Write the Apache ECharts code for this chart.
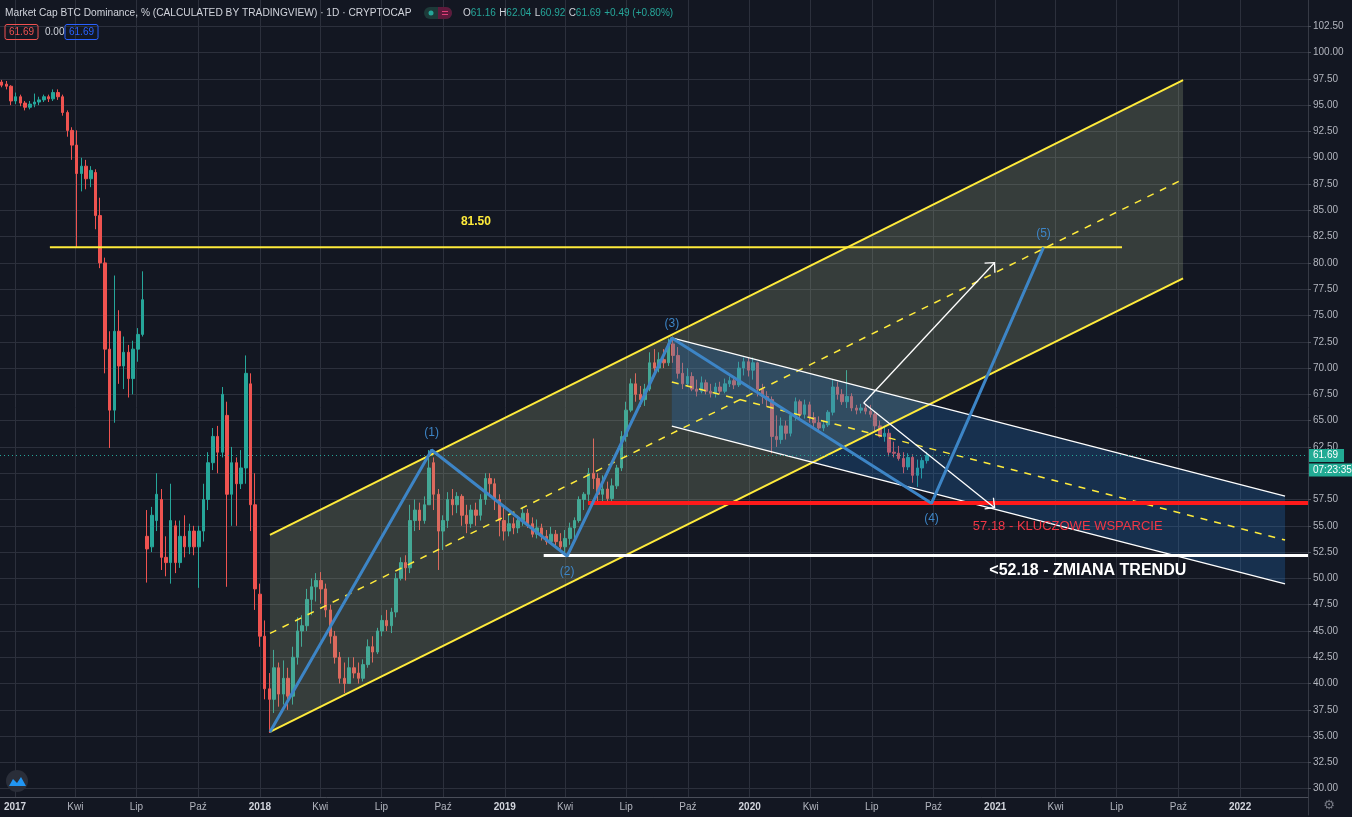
<!DOCTYPE html>
<html lang="pl">
<head>
    <meta charset="UTF-8">
    <title>Market Cap BTC Dominance</title>
    <script src="https://cdn.jsdelivr.net/npm/echarts@6.0.0/dist/echarts.min.js"></script>
    <style>
        html, body { margin: 0; padding: 0; background: #131722; }
        #main { width: 1352px; height: 817px; }
    </style>
</head>
<body>
<div id="main"></div>
<script type="text/javascript">
    var DAY = 86400000;
    function T(s) { return Date.parse(s + 'T00:00:00Z'); }

    // weekly candles, first week starts here
    var weekFirst = '2016-12-12';
    // [open, close, low, high]
    var ohlc = [
        [97.2, 96.9, 96.7, 97.4], [97.0, 96.8, 96.5, 97.3], [96.8, 95.4, 95.0, 96.9], [95.4, 95.8, 95.1, 96.2],
        [95.8, 95.2, 94.9, 96.0], [95.2, 94.8, 94.5, 95.4], [94.8, 95.1, 94.6, 95.4], [95.1, 95.3, 94.8, 96.1],
        [95.3, 95.5, 95.0, 95.8], [95.5, 95.8, 95.3, 96.0], [95.8, 95.6, 95.3, 96.0], [95.6, 96.2, 95.4, 96.5],
        [96.2, 95.8, 95.5, 96.5], [95.8, 94.3, 94.0, 96.0], [94.3, 92.6, 92.0, 94.5], [92.6, 91.2, 89.8, 92.9],
        [91.2, 88.5, 81.5, 92.6], [88.5, 89.2, 86.8, 90.0], [89.2, 88.0, 87.0, 89.8], [88.0, 88.8, 87.2, 89.2],
        [88.6, 84.5, 83.2, 88.9], [84.5, 80.0, 79.5, 86.2], [80.0, 71.8, 69.5, 80.5], [71.8, 66.0, 62.4, 73.5],
        [66.0, 73.5, 64.8, 78.8], [73.5, 70.2, 68.5, 75.5], [70.2, 71.5, 68.0, 73.0], [71.5, 69.0, 67.2, 72.2],
        [69.0, 71.8, 67.5, 72.6], [71.8, 73.2, 70.6, 73.8], [73.2, 76.5, 73.0, 79.2], [54.0, 52.8, 49.6, 56.5],
        [53.0, 56.0, 52.5, 56.8], [55.5, 58.0, 54.5, 60.0], [57.5, 52.0, 50.8, 58.5], [52.0, 51.5, 50.2, 54.0],
        [51.5, 55.5, 49.5, 59.0], [55.0, 51.5, 50.5, 55.5], [51.5, 54.0, 51.0, 55.5], [54.0, 53.0, 52.0, 56.0],
        [53.0, 54.5, 52.3, 55.2], [54.5, 53.0, 52.2, 55.0], [53.0, 54.5, 49.1, 55.0], [54.5, 57.5, 53.5, 59.0],
        [57.5, 61.0, 56.5, 62.0], [61.0, 63.5, 60.3, 64.3], [63.5, 62.0, 60.0, 64.5], [62.0, 67.5, 61.5, 68.2],
        [65.5, 58.0, 49.2, 66.8], [58.0, 61.0, 55.0, 62.5], [61.0, 59.0, 55.0, 61.5], [59.0, 60.5, 58.5, 62.2],
        [60.5, 69.5, 59.0, 71.2], [68.5, 57.0, 54.5, 69.5], [57.0, 49.0, 47.0, 60.0], [48.5, 44.5, 43.5, 49.5],
        [44.5, 39.5, 38.5, 46.0], [39.5, 38.5, 35.3, 41.0], [38.5, 41.5, 37.2, 43.2], [41.5, 39.0, 37.8, 42.0],
        [39.0, 40.5, 38.0, 42.2], [40.5, 38.8, 37.5, 41.5], [38.8, 42.5, 38.0, 43.5], [42.5, 45.0, 41.8, 46.3],
        [45.0, 45.5, 43.5, 46.5], [45.5, 48.0, 45.0, 49.0], [48.0, 49.2, 46.5, 50.0], [49.2, 49.8, 47.8, 50.5],
        [49.8, 49.0, 47.6, 50.6], [49.0, 47.0, 46.3, 49.5], [47.0, 44.5, 43.8, 47.5], [44.5, 42.5, 41.9, 45.0],
        [42.5, 40.5, 40.0, 43.0], [40.5, 40.0, 39.1, 42.0], [40.0, 41.5, 40.0, 42.5], [41.5, 41.0, 40.5, 42.5],
        [41.0, 40.5, 40.0, 42.0], [40.5, 41.8, 40.2, 42.3], [41.8, 43.5, 41.5, 44.2], [43.5, 43.0, 42.0, 44.5],
        [43.0, 45.0, 42.8, 45.3], [45.0, 46.0, 44.5, 46.5], [46.0, 45.5, 45.0, 47.0], [45.5, 46.8, 44.8, 47.2],
        [46.8, 50.0, 46.3, 50.5], [50.0, 51.5, 49.8, 52.0], [51.5, 51.0, 49.8, 52.2], [51.0, 55.5, 50.5, 57.0],
        [55.5, 56.5, 54.5, 57.5], [56.5, 55.5, 54.6, 57.2], [55.5, 57.0, 55.2, 57.8], [57.0, 60.5, 57.0, 62.2],
        [61.0, 58.0, 56.5, 61.5], [58.0, 54.5, 50.8, 58.5], [54.5, 55.5, 52.7, 56.0], [55.5, 57.5, 54.8, 58.2],
        [57.5, 57.0, 56.0, 58.5], [57.0, 57.8, 56.2, 58.2], [57.8, 56.0, 55.0, 58.0], [56.0, 55.2, 54.3, 57.0],
        [55.2, 56.5, 54.8, 57.0], [56.5, 56.0, 55.0, 57.2], [56.0, 57.5, 55.5, 58.0], [57.5, 59.5, 57.0, 60.0],
        [59.5, 59.0, 57.8, 60.0], [59.0, 57.5, 56.5, 59.5], [57.5, 55.5, 54.0, 58.0], [55.5, 54.5, 53.6, 56.8],
        [54.5, 55.2, 54.0, 56.0], [55.2, 54.8, 54.2, 55.8], [54.8, 55.5, 54.3, 56.0], [55.5, 56.2, 55.0, 56.8],
        [56.2, 55.2, 54.8, 56.6], [55.2, 54.2, 53.9, 55.8], [54.2, 54.8, 53.8, 55.6], [54.8, 54.0, 53.6, 55.2],
        [54.0, 53.5, 53.2, 54.6], [53.5, 54.2, 53.3, 54.9], [54.2, 53.5, 53.0, 54.6], [53.5, 53.0, 52.7, 54.3],
        [53.0, 53.8, 52.4, 54.6], [53.8, 54.8, 53.2, 55.3], [54.8, 55.5, 53.8, 55.8], [55.5, 57.5, 55.3, 57.8],
        [57.5, 58.0, 56.5, 58.2], [58.0, 60.0, 57.0, 60.5], [60.0, 59.5, 58.5, 63.3], [59.5, 58.0, 57.2, 60.0],
        [58.0, 58.5, 57.3, 59.8], [58.5, 57.6, 57.2, 59.2], [57.6, 58.8, 57.2, 59.5], [58.8, 60.5, 58.5, 60.8],
        [60.5, 63.5, 60.2, 64.0], [63.5, 66.0, 63.0, 66.8], [66.0, 68.5, 65.8, 69.0], [68.5, 67.5, 66.8, 69.5],
        [67.5, 67.0, 66.3, 68.3], [67.0, 68.0, 66.4, 68.5], [68.0, 70.5, 67.8, 71.5], [70.5, 70.0, 69.5, 71.8],
        [70.0, 70.8, 69.6, 71.5], [70.8, 70.5, 70.0, 71.8], [70.5, 72.3, 70.2, 72.8], [72.3, 71.2, 70.5, 73.0],
        [71.2, 69.5, 69.0, 72.0], [69.5, 68.5, 68.0, 70.5], [68.5, 69.2, 68.2, 70.0], [69.2, 68.0, 67.8, 69.6],
        [68.0, 67.8, 67.3, 68.9], [67.8, 68.6, 67.6, 69.2], [68.6, 67.8, 67.5, 68.9], [67.8, 67.6, 67.2, 68.5],
        [67.6, 68.2, 67.2, 68.6], [68.2, 67.8, 67.5, 68.7], [67.8, 68.5, 67.6, 69.0], [68.5, 68.8, 68.2, 69.2],
        [68.8, 68.4, 68.0, 69.2], [68.4, 70.0, 68.2, 70.6], [70.0, 70.6, 69.3, 71.0], [70.6, 69.8, 69.2, 71.0],
        [69.8, 70.5, 68.9, 71.0], [70.5, 68.0, 67.3, 70.6], [68.0, 67.3, 66.6, 68.5], [67.3, 67.0, 66.3, 67.8],
        [67.0, 63.5, 61.9, 67.3], [63.5, 63.2, 62.5, 65.5], [63.2, 64.5, 62.8, 65.3], [64.5, 63.8, 63.2, 65.0],
        [63.8, 65.5, 63.5, 65.8], [65.5, 66.8, 65.0, 67.2], [66.8, 65.6, 65.0, 67.0], [65.6, 66.5, 65.2, 67.0],
        [66.5, 65.3, 64.8, 66.8], [65.3, 64.8, 64.4, 65.8], [64.8, 64.3, 64.1, 65.4], [64.3, 64.6, 64.0, 65.0],
        [64.6, 65.8, 64.4, 66.0], [65.8, 68.2, 65.5, 68.9], [68.2, 67.5, 67.0, 68.7], [67.5, 66.8, 66.5, 68.0],
        [66.8, 67.3, 66.2, 69.8], [67.3, 66.2, 65.9, 67.6], [66.2, 66.0, 65.6, 66.5], [66.0, 66.2, 65.7, 66.6],
        [66.2, 65.9, 65.6, 66.6], [65.9, 65.6, 65.3, 66.5], [65.6, 64.5, 64.0, 65.8], [64.5, 63.5, 63.4, 65.0],
        [63.5, 63.8, 63.0, 64.5], [63.8, 62.0, 61.6, 64.2], [62.0, 61.9, 61.5, 63.0], [61.9, 61.4, 61.2, 62.6],
        [61.4, 60.6, 60.0, 62.0], [60.6, 61.5, 60.3, 61.9], [61.5, 59.8, 59.1, 61.8], [59.8, 60.5, 58.7, 61.3],
        [60.5, 61.2, 59.5, 61.5], [61.2, 61.69, 60.92, 62.04]
    ];
    var lastClose = 61.69;

    // x axis ticks (quarters)
    var xTickDates = ['2017-01-01', '2017-04-01', '2017-07-01', '2017-10-01', '2018-01-01', '2018-04-01',
        '2018-07-01', '2018-10-01', '2019-01-01', '2019-04-01', '2019-07-01', '2019-10-01', '2020-01-01',
        '2020-04-01', '2020-07-01', '2020-10-01', '2021-01-01', '2021-04-01', '2021-07-01', '2021-10-01', '2022-01-01'];
    var monthNames = ['', '', '', 'Kwi', '', '', 'Lip', '', '', 'Paź', '', ''];

    // rising channel (yellow)
    var chanDates = ['2018-01-16', '2021-10-08'];
    var chanUpper = [54.13, 97.39];
    var chanLower = [35.40, 78.53];
    // falling channel (white / blue)
    var downDates = ['2019-09-07', '2022-03-09'];
    var downUpper = [72.86, 57.83];
    var downLower = [64.49, 49.47];
    // elliott waves
    var waveDates = ['2018-01-16', '2018-09-14', '2019-04-04', '2019-09-07', '2020-09-28', '2021-03-14'];
    var waveValues = [35.39, 62.21, 52.13, 72.86, 57.14, 81.48];
    var waveNames = ['(1)', '(2)', '(3)', '(4)', '(5)'];
    var waveLabelValues = [63.83, 50.61, 74.25, 55.65, 82.80];
    // horizontal levels
    var targetLevel = 81.50, targetDates = ['2017-02-22', '2021-07-09'];
    var supportLevel = 57.18, supportFrom = '2019-05-05';
    var trendLevel = 52.18, trendFrom = '2019-02-28';
    // arrows
    var arrowFrom = ['2020-06-19', 66.68];
    var arrowToDates = ['2020-12-31', '2020-12-31'];
    var arrowToValues = [80.02, 56.72];
    // notes
    var noteDates = ['2018-11-19', '2021-04-19', '2021-05-19'];
    var noteValues = [83.89, 54.98, 50.70];
    var noteTexts = ['81.50', '57.18 - KLUCZOWE WSPARCIE', '<52.18 - ZMIANA TRENDU'];

    var FONT = '"Liberation Sans", Arial, sans-serif';
    var noteColors = ['#ffeb3b', '#f23645', '#ffffff'];
    var noteFonts = ['bold 12px ' + FONT, '13px ' + FONT, 'bold 16px ' + FONT];

    var T0 = T('2017-01-01');
    var xMin = T0 - 22.36 * DAY;
    var xMax = T0 + 1927.2 * DAY;

    var candleData = ohlc.map(function (c, i) {
        return [T(weekFirst) + i * 7 * DAY, c[0], c[1], c[2], c[3]];
    });

    function pt(d, v) { return [T(d), v]; }

    function seg(points, color, width, type, z) {
        return {
            type: 'line', data: points, symbol: 'none', silent: true, z: z || 4,
            lineStyle: { color: color, width: width, type: type || 'solid' }
        };
    }

    function poly(points, fill) {
        return {
            type: 'custom', silent: true, z: 3, data: [points[0]], encode: { x: 0, y: 1 },
            renderItem: function (params, api) {
                return {
                    type: 'polygon',
                    shape: { points: points.map(function (p) { return api.coord(p); }) },
                    style: { fill: fill }
                };
            }
        };
    }

    var chanMid = [(chanUpper[0] + chanLower[0]) / 2, (chanUpper[1] + chanLower[1]) / 2];
    var downMid = [(downUpper[0] + downLower[0]) / 2, (downUpper[1] + downLower[1]) / 2];

    var series = [
        {
            type: 'candlestick', name: 'BTC.D', data: candleData, z: 2,
            encode: { x: 0, y: [1, 2, 3, 4] },
            barWidth: 3,
            itemStyle: { color: '#26a69a', color0: '#ef5350', borderColor: '#26a69a', borderColor0: '#ef5350', borderWidth: 1 },
            markLine: {
                symbol: 'none', silent: true, animation: false,
                lineStyle: { color: '#26a69a', type: [1, 3], width: 1 },
                label: {
                    show: true, position: 'end', distance: 1, formatter: '61.69',
                    backgroundColor: '#22ab94', color: '#ffffff', padding: [2, 6, 1, 4],
                    fontSize: 10, fontFamily: FONT
                },
                data: [{ yAxis: lastClose }]
            }
        },
        poly([pt(chanDates[0], chanUpper[0]), pt(chanDates[1], chanUpper[1]),
              pt(chanDates[1], chanLower[1]), pt(chanDates[0], chanLower[0])], 'rgba(159,175,134,0.25)'),
        poly([pt(downDates[0], downUpper[0]), pt(downDates[1], downUpper[1]),
              pt(downDates[1], downLower[1]), pt(downDates[0], downLower[0])], 'rgba(36,118,198,0.27)'),
        seg([pt(chanDates[0], chanUpper[0]), pt(chanDates[1], chanUpper[1])], '#ffeb3b', 2),
        seg([pt(chanDates[0], chanLower[0]), pt(chanDates[1], chanLower[1])], '#ffeb3b', 2),
        seg([pt(chanDates[0], chanMid[0]), pt(chanDates[1], chanMid[1])], '#ffeb3b', 1.5, [7, 7]),
        seg([pt(downDates[0], downUpper[0]), pt(downDates[1], downUpper[1])], '#ffffff', 1.3),
        seg([pt(downDates[0], downLower[0]), pt(downDates[1], downLower[1])], '#ffffff', 1.3),
        seg([pt(downDates[0], downMid[0]), pt(downDates[1], downMid[1])], '#ffeb3b', 1.5, [7, 7]),
        seg([pt(targetDates[0], targetLevel), pt(targetDates[1], targetLevel)], '#ffeb3b', 2),
        seg([pt(supportFrom, supportLevel), [xMax, supportLevel]], '#ff1a1a', 4, 'solid', 5),
        seg([pt(trendFrom, trendLevel), [xMax, trendLevel]], '#ffffff', 3, 'solid', 5),
        seg(waveDates.map(function (d, i) { return pt(d, waveValues[i]); }), '#3d85c6', 3, 'solid', 6),
        {
            type: 'custom', silent: true, z: 6,
            data: arrowToDates.map(function (d, i) { return pt(d, arrowToValues[i]); }),
            encode: { x: 0, y: 1 },
            renderItem: function (params, api) {
                var a = api.coord(pt(arrowFrom[0], arrowFrom[1]));
                var b = api.coord(pt(arrowToDates[params.dataIndex], arrowToValues[params.dataIndex]));
                var ang = Math.atan2(b[1] - a[1], b[0] - a[0]);
                var L = 10, w = Math.PI / 4;
                var h1 = [b[0] - L * Math.cos(ang - w), b[1] - L * Math.sin(ang - w)];
                var h2 = [b[0] - L * Math.cos(ang + w), b[1] - L * Math.sin(ang + w)];
                return {
                    type: 'group', children: [
                        { type: 'line', shape: { x1: a[0], y1: a[1], x2: b[0], y2: b[1] }, style: { stroke: '#ffffff', lineWidth: 1.3 } },
                        { type: 'polyline', shape: { points: [h1, b, h2] }, style: { stroke: '#ffffff', lineWidth: 1.3, fill: null } }
                    ]
                };
            }
        },
        {
            type: 'custom', silent: true, z: 7,
            data: waveNames.map(function (n, i) { return pt(waveDates[i + 1], waveLabelValues[i]); }),
            encode: { x: 0, y: 1 },
            renderItem: function (params, api) {
                var p = api.coord(pt(waveDates[params.dataIndex + 1], waveLabelValues[params.dataIndex]));
                return {
                    type: 'text', x: p[0], y: p[1],
                    style: { text: waveNames[params.dataIndex], fill: '#3d85c6', font: '12px ' + FONT, align: 'center', verticalAlign: 'middle' }
                };
            }
        },
        {
            type: 'custom', silent: true, z: 7,
            data: noteDates.map(function (d, i) { return pt(d, noteValues[i]); }),
            encode: { x: 0, y: 1 },
            renderItem: function (params, api) {
                var i = params.dataIndex;
                var p = api.coord(pt(noteDates[i], noteValues[i]));
                return {
                    type: 'text', x: p[0], y: p[1],
                    style: { text: noteTexts[i], fill: noteColors[i], font: noteFonts[i], align: 'center', verticalAlign: 'middle' }
                };
            }
        }
    ];

    var myChart = echarts.init(document.getElementById('main'));

    var tickValues = xTickDates.map(T);
    var gridLine = '#2c303c';

    var option = {
        backgroundColor: '#131722',
        animation: false,
        grid: { left: 0, right: 44, top: 0, bottom: 2 },
        xAxis: [{
            type: 'value', min: xMin, max: xMax, scale: true,
            axisLine: { show: false },
            axisTick: { show: false, customValues: tickValues },
            axisLabel: { show: false, customValues: tickValues },
            splitLine: { show: true, lineStyle: { color: gridLine, width: 1 } }
        }, {
            type: 'value', min: xMin, max: xMax, scale: true, position: 'bottom', offset: -18, z: 10,
            axisLine: { show: true, onZero: false, lineStyle: { color: '#4a4e59' } },
            axisTick: { show: false, customValues: tickValues },
            splitLine: { show: false },
            axisLabel: {
                customValues: tickValues, color: '#b2b5be', fontSize: 10, fontFamily: FONT, margin: 5,
                hideOverlap: false,
                formatter: function (v) {
                    var d = new Date(v);
                    if (d.getUTCMonth() === 0) return '{y|' + d.getUTCFullYear() + '}';
                    return monthNames[d.getUTCMonth()];
                },
                rich: { y: { fontWeight: 'bold', color: '#d1d4dc', fontSize: 10, fontFamily: FONT } }
            }
        }],
        yAxis: {
            type: 'value', position: 'right', min: 27.5, max: 105, interval: 2.5,
            axisLine: { show: true, lineStyle: { color: '#363a45' } },
            axisTick: { show: true, length: 3, lineStyle: { color: '#4a4e59' } },
            axisLabel: {
                color: '#b2b5be', fontSize: 10, fontFamily: FONT, margin: 5,
                showMinLabel: false, showMaxLabel: false,
                formatter: function (v) { return v.toFixed(2); }
            },
            splitLine: { show: true, showMinLine: false, showMaxLine: false, lineStyle: { color: gridLine } }
        },
        graphic: [
            { type: 'rect', z: 5, shape: { x: 0, y: 798, width: 1308, height: 19 }, style: { fill: '#131722' } },
            {
                type: 'text', z: 6, x: 5, y: 13,
                style: { text: 'Market Cap BTC Dominance, % (CALCULATED BY TRADINGVIEW) · 1D · CRYPTOCAP', fill: '#d1d4dc', font: '10.2px ' + FONT, verticalAlign: 'middle' }
            },
            { type: 'rect', z: 6, shape: { x: 424, y: 7, width: 28, height: 12, r: 6 }, style: { fill: '#1d3a39' } },
            { type: 'rect', z: 6, shape: { x: 438, y: 7, width: 14, height: 12, r: [0, 6, 6, 0] }, style: { fill: '#5e1a3c' } },
            { type: 'circle', z: 7, shape: { cx: 431, cy: 13, r: 2.5 }, style: { fill: '#26a69a' } },
            { type: 'rect', z: 7, shape: { x: 442, y: 11, width: 6, height: 1 }, style: { fill: '#e0407a' } },
            { type: 'rect', z: 7, shape: { x: 442, y: 14, width: 6, height: 1 }, style: { fill: '#e0407a' } },
            {
                type: 'text', z: 6, x: 463, y: 13,
                style: {
                    text: '{l|O}{v|61.16} {l|H}{v|62.04} {l|L}{v|60.92} {l|C}{v|61.69} {v|+0.49 (+0.80%)}',
                    verticalAlign: 'middle',
                    rich: {
                        l: { fill: '#d1d4dc', font: '10px ' + FONT },
                        v: { fill: '#26a69a', font: '10px ' + FONT }
                    }
                }
            },
            {
                type: 'text', z: 6, x: 5, y: 32,
                style: { text: '61.69', fill: '#ef5350', font: '10px ' + FONT, verticalAlign: 'middle', padding: [3, 4, 2, 4], borderColor: '#ef5350', borderWidth: 1, borderRadius: 2 }
            },
            { type: 'text', z: 6, x: 45, y: 32, style: { text: '0.00', fill: '#d1d4dc', font: '10px ' + FONT, verticalAlign: 'middle' } },
            {
                type: 'text', z: 6, x: 65, y: 32,
                style: { text: '61.69', fill: '#2962ff', font: '10px ' + FONT, verticalAlign: 'middle', padding: [3, 4, 2, 4], borderColor: '#2962ff', borderWidth: 1, borderRadius: 2 }
            },
            {
                type: 'text', z: 6, x: 1309, y: 470,
                style: { text: '07:23:35', fill: '#ffffff', font: '10px ' + FONT, verticalAlign: 'middle', backgroundColor: '#22ab94', padding: [2, 4, 1, 4] }
            },
            { type: 'circle', z: 6, shape: { cx: 17, cy: 781, r: 11 }, style: { fill: '#2a2e39' } },
            { type: 'polygon', z: 7, shape: { points: [[9, 786], [13, 779], [17, 783], [21, 777], [26, 786]] }, style: { fill: '#2196f3' } },
            { type: 'text', z: 6, x: 1329, y: 806, style: { text: '⚙', fill: '#787b86', font: '13px "DejaVu Sans"', align: 'center', verticalAlign: 'middle' } }
        ],
        series: series
    };

    myChart.setOption(option);
</script>
</body>
</html>
